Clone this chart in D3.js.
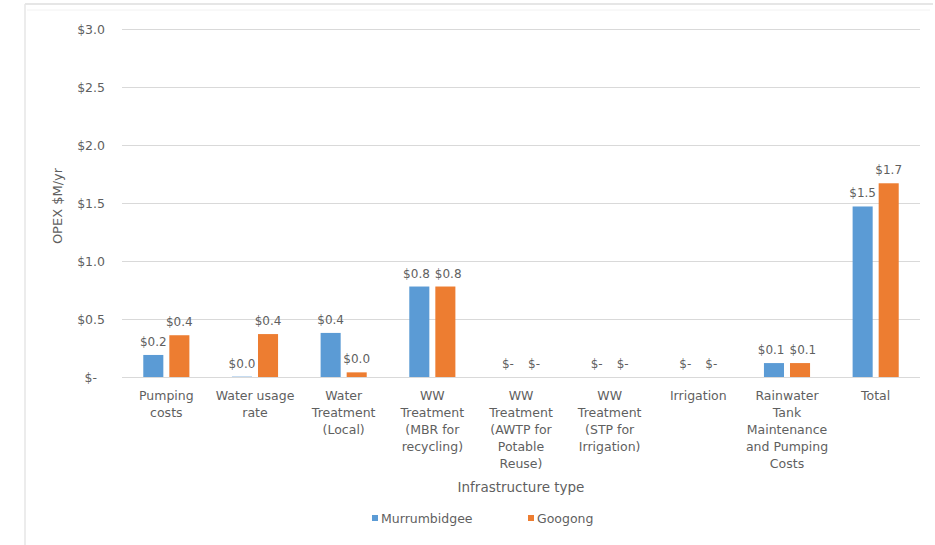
<!DOCTYPE html>
<html>
<head>
<meta charset="utf-8">
<script src="https://cdn.jsdelivr.net/npm/d3@7"></script>
<style>
  html, body { margin: 0; padding: 0; background: #ffffff; }
  svg { display: block; font-family: "DejaVu Sans", sans-serif; }
  text { fill: #5f5f5f; }
</style>
</head>
<body>
<svg id="chart" width="935" height="545"></svg>
<script>
// Category labels, one entry per wrapped line
const categories = [
  ["Pumping", "costs"],
  ["Water usage", "rate"],
  ["Water", "Treatment", "(Local)"],
  ["WW", "Treatment", "(MBR for", "recycling)"],
  ["WW", "Treatment", "(AWTP for", "Potable", "Reuse)"],
  ["WW", "Treatment", "(STP for", "Irrigation)"],
  ["Irrigation"],
  ["Rainwater", "Tank", "Maintenance", "and Pumping", "Costs"],
  ["Total"]
];
const seriesNames = ["Murrumbidgee", "Googong"];
const murrumbidgee = [0.19, 0.003, 0.38, 0.78, 0, 0, 0, 0.12, 1.47];
const googong      = [0.36, 0.37, 0.04, 0.78, 0, 0, 0, 0.12, 1.67];
const yTicks = [0, 0.5, 1.0, 1.5, 2.0, 2.5, 3.0];
const colors = ["#5B9BD5", "#ED7D31"];

const svg = d3.select("#chart");
const W = 935, H = 545;

// Accounting-style money format: zero shows as "$-"
const money = v => v === 0 ? "$-" : "$" + d3.format(".1f")(v);

// chart frame edges
const frame = svg.append("g");
frame.append("line").attr("x1", 25).attr("x2", 25).attr("y1", 4).attr("y2", H)
  .attr("stroke", "#ececec").attr("stroke-width", 2);
frame.append("line").attr("x1", 25).attr("x2", 933).attr("y1", 4).attr("y2", 4)
  .attr("stroke", "#e6e6e6").attr("stroke-width", 2);
frame.append("line").attr("x1", 27).attr("x2", 930).attr("y1", 10).attr("y2", 10)
  .attr("stroke", "#f2f2f2").attr("stroke-width", 1);

const x0 = d3.scaleBand()
  .domain(d3.range(categories.length))
  .range([122, 920])
  .paddingInner(0.48)
  .paddingOuter(0.24);

const x1 = d3.scaleBand()
  .domain(seriesNames)
  .range([0, x0.bandwidth()])
  .paddingInner(0.23);

const y = d3.scaleLinear().domain([0, 3]).range([377, 29]);

// gridlines
svg.append("g")
  .selectAll("line")
  .data(yTicks)
  .join("line")
  .attr("x1", 122).attr("x2", 920)
  .attr("y1", d => Math.round(y(d)) + 0.5)
  .attr("y2", d => Math.round(y(d)) + 0.5)
  .attr("stroke", "#d9d9d9").attr("stroke-width", 1);

// y axis labels (zero keeps the accounting-format trailing gap)
const yAxis = d3.axisLeft(y).tickValues(yTicks).tickSize(0).tickPadding(0)
  .tickFormat(v => v === 0 ? "$-\u00A0\u00A0" : money(v));
const yg = svg.append("g").attr("transform", "translate(105,0)").call(yAxis);
yg.select(".domain").remove();
yg.selectAll("text")
  .attr("fill", "#5f5f5f")
  .style("font-size", "12.5px")
  .style("font-family", "'DejaVu Sans', sans-serif");

// bars
const data = categories.map((c, i) => ({ i, values: [murrumbidgee[i], googong[i]] }));
const groups = svg.append("g").selectAll("g")
  .data(data)
  .join("g")
  .attr("transform", d => `translate(${x0(d.i)},0)`);

groups.selectAll("rect")
  .data(d => d.values.map((v, k) => ({ v, k })))
  .join("rect")
  .attr("x", d => x1(seriesNames[d.k]))
  .attr("width", x1.bandwidth())
  .attr("y", d => y(d.v))
  .attr("height", d => y(0) - y(d.v))
  .attr("fill", d => colors[d.k]);

// value labels
groups.each(function () {
  const labels = d3.select(this).selectAll("text.val")
    .data(d => d.values.map((v, k) => ({ v, k })))
    .join("text")
    .attr("class", "val")
    .attr("x", d => x1(seriesNames[d.k]) + x1.bandwidth() / 2)
    .attr("y", d => y(d.v) - 9)
    .attr("text-anchor", "middle")
    .style("font-size", "12px")
    .text(d => money(d.v));

  // push the pair apart when they would touch
  const nodes = labels.nodes();
  const a = nodes[0], b = nodes[1];
  const ya = +a.getAttribute("y"), yb = +b.getAttribute("y");
  if (Math.abs(ya - yb) < 13) {
    const xa = +a.getAttribute("x"), xb = +b.getAttribute("x");
    const wa = a.getComputedTextLength(), wb = b.getComputedTextLength();
    const gap = (xb - wb / 2) - (xa + wa / 2);
    const need = 5;
    if (gap < need) {
      const shift = (need - gap) / 2;
      a.setAttribute("x", xa - shift);
      b.setAttribute("x", xb + shift);
    }
  }
});

// category labels
const catG = svg.append("g");
categories.forEach((lines, i) => {
  const t = catG.append("text")
    .attr("x", x0(i) + x0.bandwidth() / 2)
    .attr("y", 399.5)
    .attr("text-anchor", "middle")
    .style("font-size", "12.5px");
  lines.forEach((ln, j) => {
    t.append("tspan")
      .attr("x", x0(i) + x0.bandwidth() / 2)
      .attr("dy", j === 0 ? 0 : 17.2)
      .text(ln);
  });
});

// axis titles
svg.append("text")
  .attr("x", 521).attr("y", 492)
  .attr("text-anchor", "middle")
  .style("font-size", "13.5px")
  .text("Infrastructure type");

svg.append("text")
  .attr("transform", "translate(62,206) rotate(-90)")
  .attr("text-anchor", "middle")
  .style("font-size", "13px")
  .text("OPEX $M/yr");

// legend
const legendX = [372, 528];
const lg = svg.append("g").selectAll("g")
  .data(seriesNames)
  .join("g")
  .attr("transform", (d, i) => `translate(${legendX[i]},518)`);
lg.append("rect").attr("x", 0).attr("y", -3).attr("width", 6).attr("height", 6)
  .attr("fill", (d, i) => colors[i]);
lg.append("text").attr("x", 9).attr("y", 4.5)
  .style("font-size", "12.5px")
  .text(d => d);
</script>
</body>
</html>
